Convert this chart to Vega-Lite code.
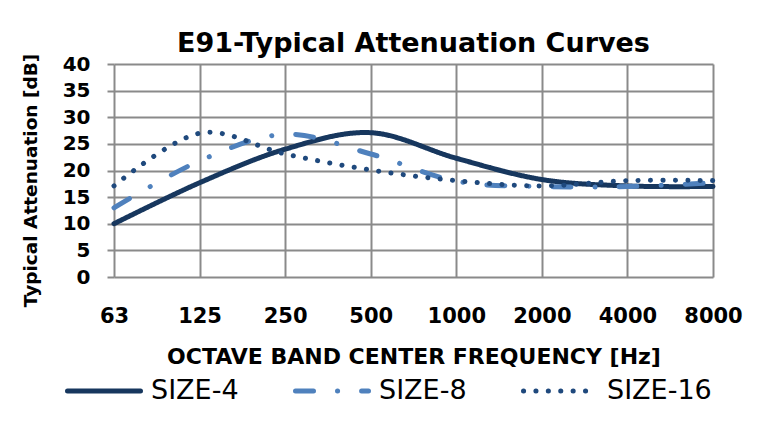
{
  "$schema": "https://vega.github.io/schema/vega-lite/v6.json",
  "autosize": {"type": "none"},
  "padding": {"left": 114, "top": 64, "right": 50, "bottom": 147},
  "width": 599,
  "height": 213,
  "background": "white",
  "title": {
    "text": "E91-Typical Attenuation Curves",
    "font": "DejaVu Sans",
    "fontSize": 27,
    "fontWeight": "bold",
    "color": "#000000",
    "anchor": "middle",
    "frame": "group",
    "baseline": "alphabetic",
    "offset": 11,
    "dy": 40
  },
  "data": {
    "values": [
      {"freq": "63", "series": "SIZE-4", "dB": 10.0},
      {"freq": "125", "series": "SIZE-4", "dB": 17.7},
      {"freq": "250", "series": "SIZE-4", "dB": 24.0},
      {"freq": "500", "series": "SIZE-4", "dB": 27.1},
      {"freq": "1000", "series": "SIZE-4", "dB": 22.3},
      {"freq": "2000", "series": "SIZE-4", "dB": 18.3},
      {"freq": "4000", "series": "SIZE-4", "dB": 17.1},
      {"freq": "8000", "series": "SIZE-4", "dB": 17.0},
      {"freq": "63", "series": "SIZE-8", "dB": 13.0},
      {"freq": "125", "series": "SIZE-8", "dB": 21.8},
      {"freq": "250", "series": "SIZE-8", "dB": 26.8},
      {"freq": "500", "series": "SIZE-8", "dB": 23.1},
      {"freq": "1000", "series": "SIZE-8", "dB": 18.0},
      {"freq": "2000", "series": "SIZE-8", "dB": 17.0},
      {"freq": "4000", "series": "SIZE-8", "dB": 17.0},
      {"freq": "8000", "series": "SIZE-8", "dB": 17.7},
      {"freq": "63", "series": "SIZE-16", "dB": 17.1},
      {"freq": "125", "series": "SIZE-16", "dB": 27.0},
      {"freq": "250", "series": "SIZE-16", "dB": 23.1},
      {"freq": "500", "series": "SIZE-16", "dB": 20.1},
      {"freq": "1000", "series": "SIZE-16", "dB": 18.1},
      {"freq": "2000", "series": "SIZE-16", "dB": 17.1},
      {"freq": "4000", "series": "SIZE-16", "dB": 18.1},
      {"freq": "8000", "series": "SIZE-16", "dB": 18.1}
    ]
  },
  "mark": {"type": "line", "interpolate": "cardinal", "strokeWidth": 5, "strokeCap": "round", "strokeJoin": "round"},
  "encoding": {
    "x": {
      "field": "freq",
      "type": "ordinal",
      "sort": ["63", "125", "250", "500", "1000", "2000", "4000", "8000"],
      "scale": {"type": "point", "padding": 0},
      "axis": {
        "title": "OCTAVE BAND CENTER FREQUENCY  [Hz]",
        "labelAngle": 0,
        "ticks": false,
        "domain": false,
        "grid": true,
        "labelPadding": 28,
        "titlePadding": 20
      }
    },
    "y": {
      "field": "dB",
      "type": "quantitative",
      "scale": {"domain": [0, 40], "nice": false, "zero": true},
      "axis": {
        "title": "Typical Attenuation  [dB]",
        "values": [0, 5, 10, 15, 20, 25, 30, 35, 40],
        "domain": false,
        "ticks": true,
        "tickSize": 7,
        "labelPadding": 17,
        "titlePadding": 22,
        "titleY": 116,
        "labelFontSize": 20,
        "titleFontSize": 18.5
      }
    },
    "color": {
      "field": "series",
      "type": "nominal",
      "sort": ["SIZE-4", "SIZE-8", "SIZE-16"],
      "scale": {"domain": ["SIZE-4", "SIZE-8", "SIZE-16"], "range": ["#17375E", "#4F81BD", "#1F497D"]},
      "legend": {
        "title": null,
        "orient": "none",
        "direction": "horizontal",
        "legendX": -49,
        "legendY": 288,
        "symbolType": "stroke",
        "symbolSize": 5329,
        "symbolStrokeWidth": 5,
        "labelFont": "DejaVu Sans",
        "labelFontSize": 27,
        "labelFontWeight": "normal",
        "labelColor": "#000000",
        "labelOffset": 8,
        "columnPadding": 46,
        "labelLimit": 300,
        "encoding": {"symbols": {"strokeCap": {"value": "round"}}}
      }
    },
    "strokeDash": {
      "field": "series",
      "type": "nominal",
      "sort": ["SIZE-4", "SIZE-8", "SIZE-16"],
      "scale": {"domain": ["SIZE-4", "SIZE-8", "SIZE-16"], "range": [[1, 0], [18, 24, 0.1, 24], [0.1, 12.3]]},
      "legend": null
    }
  },
  "config": {
    "view": {"stroke": null},
    "axis": {
      "gridColor": "#8a8a8a",
      "gridWidth": 2,
      "gridOpacity": 1,
      "tickColor": "#8a8a8a",
      "tickWidth": 2,
      "labelFont": "DejaVu Sans",
      "labelFontWeight": "bold",
      "labelFontSize": 21,
      "labelColor": "#000000",
      "titleFont": "DejaVu Sans",
      "titleFontWeight": "bold",
      "titleFontSize": 22,
      "titleColor": "#000000"
    }
  }
}
